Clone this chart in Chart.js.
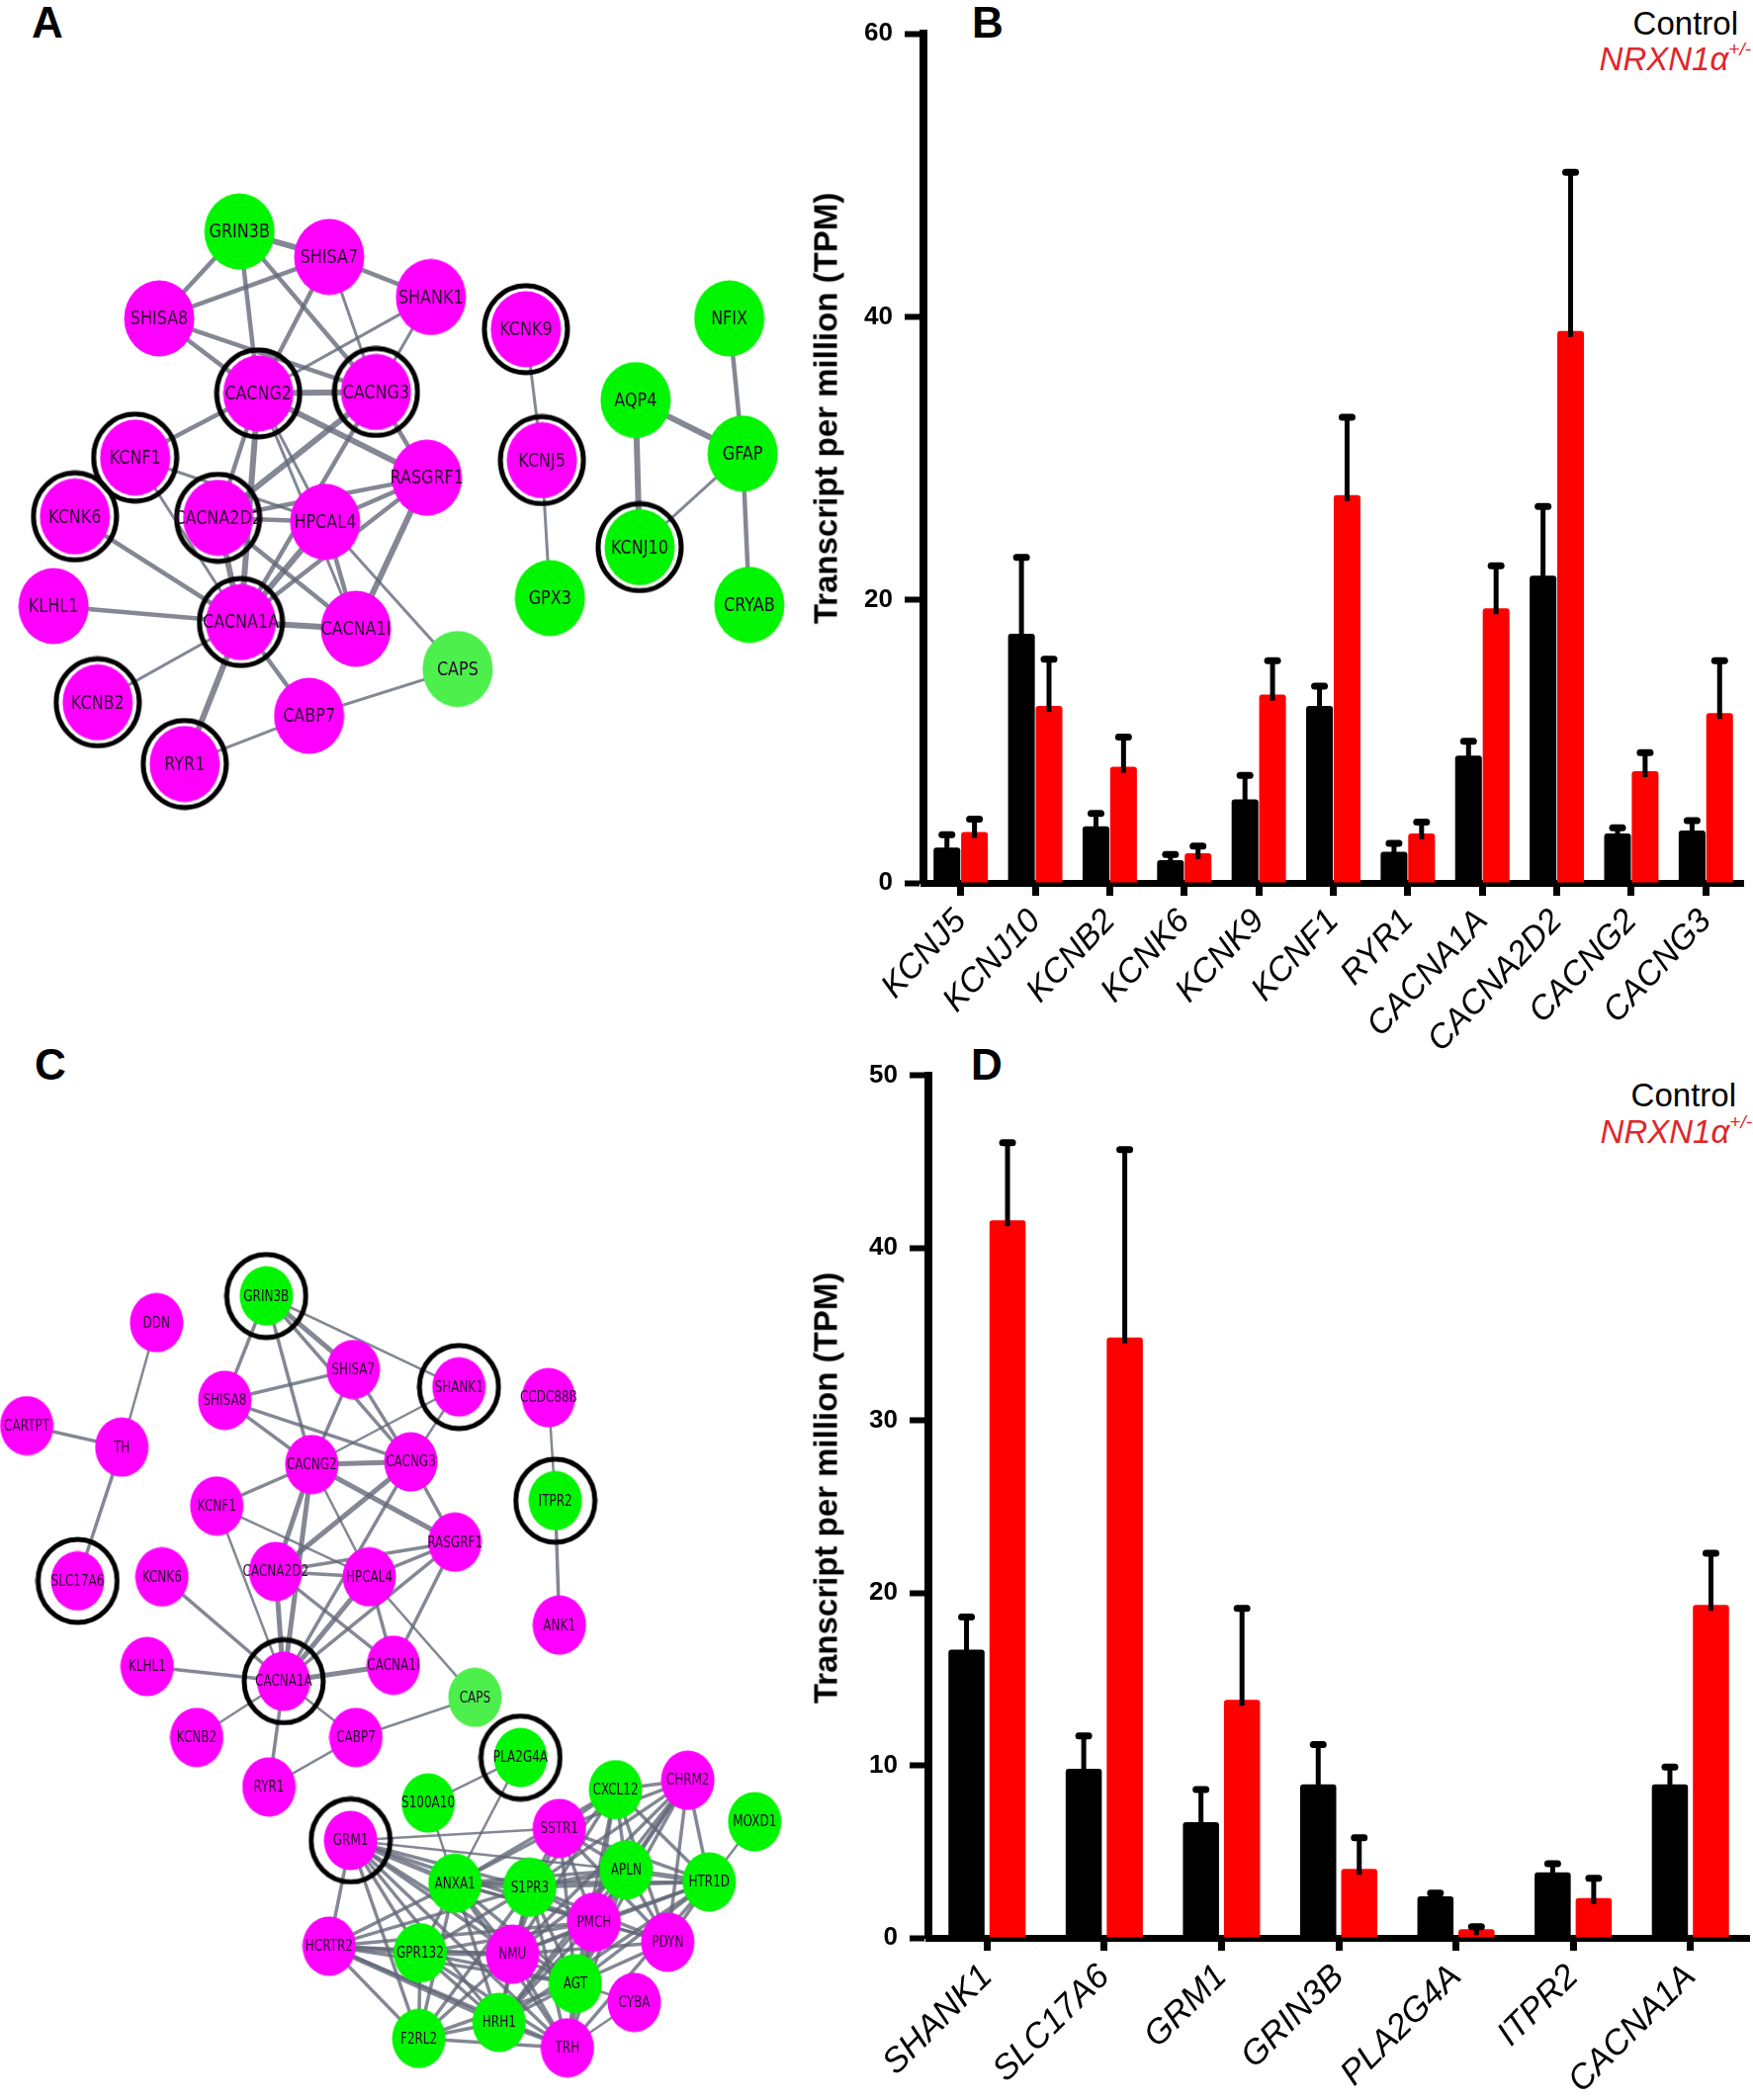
<!DOCTYPE html>
<html>
<head>
<meta charset="utf-8">
<script src="https://cdn.jsdelivr.net/npm/chart.js@4.4.1/dist/chart.umd.min.js"></script>
<style>
    body { margin: 0; background: #fff; }
    #page { position: relative; width: 1773px; height: 2124px; overflow: hidden; font-family: "Liberation Sans", Arial, sans-serif; }
    canvas { position: absolute; }
    .letter { position: absolute; font-weight: bold; font-size: 44px; line-height: 1; }
    .ctl { position: absolute; font-size: 33px; line-height: 1; }
    .mut { position: absolute; font-size: 33px; line-height: 1; font-style: italic; color: #e0262b; }
    .mut sup { font-size: 19px; position: relative; top: -3px; }
    .ytitle { position: absolute; font-weight: bold; font-size: 33px; line-height: 1; white-space: nowrap;
              transform: translate(-50%, -50%) rotate(-90deg); }
</style>
</head>
<body>
<div id="page">
    <div class="letter" style="left:32px;top:1px;">A</div>
    <div class="letter" style="left:983px;top:1px;">B</div>
    <div class="letter" style="left:35px;top:1055px;">C</div>
    <div class="letter" style="left:982px;top:1055px;">D</div>
    <div class="ctl" style="right:15px;top:7px;">Control</div>
    <div class="mut" style="right:2px;top:43px;">NRXN1α<sup>+/-</sup></div>
    <div class="ctl" style="right:17px;top:1091px;">Control</div>
    <div class="mut" style="right:1px;top:1128px;">NRXN1α<sup>+/-</sup></div>

    <canvas id="netA" width="812" height="1000" style="left:0;top:0;"></canvas>
    <canvas id="barB" width="958" height="1100" style="left:815px;top:0;"></canvas>
    <canvas id="netC" width="812" height="1069" style="left:0;top:1055px;"></canvas>
    <canvas id="barD" width="958" height="1064" style="left:815px;top:1060px;"></canvas>

    <div class="ytitle" style="left:835px;top:413px;">Transcript per million (TPM)</div>
    <div class="ytitle" style="left:835px;top:1505px;">Transcript per million (TPM)</div>
</div>
<script>
// ---- Panel B data (TPM, mean and mean+SEM) ----
const bGenes = ['KCNJ5', 'KCNJ10', 'KCNB2', 'KCNK6', 'KCNK9', 'KCNF1', 'RYR1', 'CACNA1A', 'CACNA2D2', 'CACNG2', 'CACNG3'];
const bControl = [2.5, 17.6, 4.0, 1.6, 5.9, 12.5, 2.2, 9.0, 21.7, 3.5, 3.7];
const bControlErr = [3.4, 23.0, 4.9, 2.0, 7.6, 13.9, 2.8, 10.0, 26.6, 3.9, 4.4];
const bMutant = [3.6, 12.5, 8.2, 2.1, 13.3, 27.4, 3.5, 19.4, 39.0, 7.9, 12.0];
const bMutantErr = [4.5, 15.8, 10.3, 2.6, 15.7, 32.9, 4.3, 22.4, 50.2, 9.2, 15.7];
const bTicks = [0, 20, 40, 60];

// ---- Panel D data ----
const dGenes = ['SHANK1', 'SLC17A6', 'GRM1', 'GRIN3B', 'PLA2G4A', 'ITPR2', 'CACNA1A'];
const dControl = [16.7, 9.8, 6.7, 8.9, 2.4, 3.8, 8.9];
const dControlErr = [18.6, 11.7, 8.6, 11.2, 2.6, 4.3, 9.9];
const dMutant = [41.6, 34.8, 13.8, 4.0, 0.5, 2.3, 19.3];
const dMutantErr = [46.1, 45.7, 19.1, 5.8, 0.65, 3.45, 22.3];
const dTicks = [0, 10, 20, 30, 40, 50];

// ---- Panel A network: [name, x, y, colour, circled] ----
const nodesA = [
    ['GRIN3B', 179, 173, 'g', 0], ['SHISA7', 246, 192, 'm', 0], ['SHANK1', 322, 222, 'm', 0],
    ['SHISA8', 119, 238, 'm', 0], ['KCNK9', 393, 246, 'm', 1], ['NFIX', 545, 238, 'g', 0],
    ['CACNG2', 193, 294, 'm', 1], ['CACNG3', 281, 293, 'm', 1], ['AQP4', 475, 299, 'g', 0],
    ['KCNF1', 101, 342, 'm', 1], ['KCNJ5', 405, 344, 'm', 1], ['GFAP', 555, 339, 'g', 0],
    ['RASGRF1', 319, 357, 'm', 0], ['KCNK6', 56, 386, 'm', 1], ['CACNA2D2', 163, 387, 'm', 1],
    ['HPCAL4', 243, 390, 'm', 0], ['KCNJ10', 478, 409, 'g', 1], ['KLHL1', 40, 453, 'm', 0],
    ['CACNA1A', 180, 465, 'm', 1], ['CACNA1I', 266, 470, 'm', 0], ['GPX3', 411, 447, 'g', 0],
    ['CRYAB', 560, 452, 'g', 0], ['CAPS', 342, 500, 'l', 0], ['KCNB2', 73, 525, 'm', 1],
    ['CABP7', 231, 535, 'm', 0], ['RYR1', 138, 571, 'm', 1]
];
// [from, to, weight]
const edgesA = [
    ['CACNG2', 'CACNG3', 3], ['GRIN3B', 'SHISA7', 3], ['CACNG2', 'CACNA1A', 3], ['CACNA2D2', 'CACNA1A', 3],
    ['AQP4', 'GFAP', 3], ['AQP4', 'KCNJ10', 3], ['CACNG3', 'CACNA2D2', 3], ['CACNG2', 'RASGRF1', 3],
    ['CACNA1A', 'CACNA1I', 3], ['RASGRF1', 'CACNA1I', 3], ['HPCAL4', 'CACNA1A', 3], ['GFAP', 'CRYAB', 2],
    ['GRIN3B', 'CACNG2', 2], ['GRIN3B', 'CACNG3', 2], ['SHISA7', 'CACNG2', 2], ['SHISA7', 'CACNG3', 1],
    ['SHISA8', 'CACNG2', 2], ['SHISA8', 'CACNG3', 2], ['SHISA8', 'SHISA7', 2], ['SHANK1', 'SHISA7', 2],
    ['SHANK1', 'CACNG2', 1], ['CACNG3', 'RASGRF1', 2], ['CACNG3', 'CACNA1A', 2], ['CACNG2', 'KCNF1', 2],
    ['CACNG2', 'CACNA2D2', 2], ['CACNA2D2', 'HPCAL4', 2], ['HPCAL4', 'RASGRF1', 2], ['RASGRF1', 'CACNA1A', 2],
    ['CACNA2D2', 'RASGRF1', 2], ['CACNA1A', 'RYR1', 3], ['KLHL1', 'CACNA1A', 2], ['CACNA1A', 'CABP7', 2],
    ['NFIX', 'GFAP', 2], ['GRIN3B', 'SHISA8', 2], ['SHANK1', 'CACNG3', 1], ['KCNF1', 'HPCAL4', 1],
    ['KCNF1', 'CACNA1A', 1], ['KCNK6', 'CACNA1A', 2], ['CACNG2', 'CACNA1I', 1], ['HPCAL4', 'CACNA1I', 2],
    ['HPCAL4', 'CAPS', 1], ['CACNA2D2', 'CACNA1I', 2], ['CABP7', 'CAPS', 1], ['CABP7', 'RYR1', 1],
    ['KCNK9', 'KCNJ5', 1], ['KCNJ5', 'GPX3', 1], ['KCNJ10', 'GFAP', 1], ['CACNA1A', 'KCNB2', 1],
    ['CACNG2', 'HPCAL4', 1]
];

// ---- Panel C network ----
const nodesC = [
    ['GRIN3B', 199, 969, 'g', 1], ['DDN', 117, 989, 'm', 0], ['SHISA7', 264, 1024, 'm', 0],
    ['SHANK1', 343, 1037, 'm', 1], ['CCDC88B', 410, 1045, 'm', 0], ['SHISA8', 168, 1047, 'm', 0],
    ['CARTPT', 20, 1066, 'm', 0], ['TH', 91, 1082, 'm', 0], ['CACNG2', 233, 1095, 'm', 0],
    ['CACNG3', 307, 1093, 'm', 0], ['ITPR2', 415, 1122, 'g', 1], ['KCNF1', 162, 1126, 'm', 0],
    ['RASGRF1', 340, 1153, 'm', 0], ['SLC17A6', 58, 1182, 'm', 1], ['KCNK6', 121, 1179, 'm', 0],
    ['CACNA2D2', 206, 1175, 'm', 0], ['HPCAL4', 276, 1179, 'm', 0], ['ANK1', 418, 1215, 'm', 0],
    ['KLHL1', 110, 1246, 'm', 0], ['CACNA1A', 212, 1257, 'm', 1], ['CACNA1I', 294, 1245, 'm', 0],
    ['CAPS', 355, 1269, 'l', 0], ['KCNB2', 147, 1299, 'm', 0], ['CABP7', 266, 1299, 'm', 0],
    ['PLA2G4A', 389, 1314, 'g', 1], ['RYR1', 201, 1336, 'm', 0], ['S100A10', 320, 1348, 'g', 0],
    ['CXCL12', 460, 1338, 'g', 0], ['CHRM2', 514, 1331, 'm', 0], ['MOXD1', 564, 1362, 'g', 0],
    ['SSTR1', 418, 1367, 'm', 0], ['GRM1', 262, 1376, 'm', 1], ['ANXA1', 340, 1408, 'g', 0],
    ['S1PR3', 396, 1411, 'g', 0], ['APLN', 468, 1398, 'g', 0], ['HTR1D', 530, 1407, 'g', 0],
    ['PMCH', 444, 1437, 'm', 0], ['HCRTR2', 246, 1455, 'm', 0], ['GPR132', 314, 1460, 'g', 0],
    ['NMU', 383, 1461, 'm', 0], ['PDYN', 499, 1452, 'm', 0], ['AGT', 430, 1483, 'g', 0],
    ['CYBA', 474, 1497, 'm', 0], ['HRH1', 373, 1512, 'g', 0], ['F2RL2', 313, 1524, 'g', 0],
    ['TRH', 424, 1531, 'm', 0]
];
const edgesC = [
    ['DDN', 'TH', 1], ['CARTPT', 'TH', 2], ['TH', 'SLC17A6', 2],
    ['GRIN3B', 'SHISA8', 2], ['GRIN3B', 'CACNG2', 2], ['GRIN3B', 'SHISA7', 3], ['GRIN3B', 'CACNG3', 2],
    ['GRIN3B', 'SHANK1', 1], ['SHISA7', 'SHISA8', 2], ['SHISA7', 'CACNG2', 2], ['SHISA7', 'CACNG3', 2],
    ['SHISA8', 'CACNG2', 2], ['SHISA8', 'CACNG3', 2], ['SHANK1', 'CACNG2', 1], ['SHANK1', 'CACNG3', 1],
    ['CACNG2', 'CACNG3', 3], ['CACNG2', 'KCNF1', 2], ['CACNG2', 'CACNA2D2', 3], ['CACNG2', 'CACNA1A', 3],
    ['CACNG2', 'RASGRF1', 3], ['CACNG2', 'HPCAL4', 1], ['CACNG3', 'RASGRF1', 2], ['CACNG3', 'CACNA2D2', 3],
    ['CACNG3', 'CACNA1A', 2], ['KCNF1', 'HPCAL4', 1], ['KCNF1', 'CACNA1A', 1], ['KCNK6', 'CACNA1A', 2],
    ['CACNA2D2', 'HPCAL4', 2], ['CACNA2D2', 'RASGRF1', 2], ['CACNA2D2', 'CACNA1A', 3], ['CACNA2D2', 'CACNA1I', 2],
    ['HPCAL4', 'RASGRF1', 2], ['HPCAL4', 'CACNA1A', 3], ['HPCAL4', 'CACNA1I', 2], ['HPCAL4', 'CAPS', 1],
    ['RASGRF1', 'CACNA1A', 2], ['RASGRF1', 'CACNA1I', 2], ['KLHL1', 'CACNA1A', 2], ['CACNA1A', 'CACNA1I', 3],
    ['CACNA1A', 'KCNB2', 1], ['CACNA1A', 'RYR1', 2], ['CACNA1A', 'CABP7', 1], ['CABP7', 'CAPS', 1],
    ['CABP7', 'RYR1', 1], ['CCDC88B', 'ITPR2', 1], ['ITPR2', 'ANK1', 2],
    ['PLA2G4A', 'S100A10', 1], ['PLA2G4A', 'ANXA1', 1], ['S100A10', 'ANXA1', 1], ['MOXD1', 'HTR1D', 1],
    ['GRM1', 'HCRTR2', 2], ['GRM1', 'ANXA1', 3], ['GRM1', 'S1PR3', 2], ['GRM1', 'GPR132', 2], ['GRM1', 'NMU', 2],
    ['GRM1', 'F2RL2', 2], ['GRM1', 'HRH1', 2], ['GRM1', 'AGT', 2], ['GRM1', 'TRH', 2], ['GRM1', 'PMCH', 2],
    ['GRM1', 'APLN', 1], ['GRM1', 'SSTR1', 1],
    ['HCRTR2', 'GPR132', 3], ['HCRTR2', 'NMU', 2], ['HCRTR2', 'F2RL2', 2], ['HCRTR2', 'HRH1', 3],
    ['HCRTR2', 'TRH', 2], ['HCRTR2', 'AGT', 2], ['HCRTR2', 'ANXA1', 2], ['HCRTR2', 'S1PR3', 2], ['HCRTR2', 'PMCH', 2],
    ['ANXA1', 'S1PR3', 3], ['ANXA1', 'GPR132', 2], ['ANXA1', 'NMU', 2], ['ANXA1', 'F2RL2', 2], ['ANXA1', 'HRH1', 2],
    ['ANXA1', 'AGT', 2], ['ANXA1', 'TRH', 2], ['ANXA1', 'APLN', 2], ['ANXA1', 'SSTR1', 2], ['ANXA1', 'CXCL12', 2],
    ['ANXA1', 'PMCH', 2], ['ANXA1', 'HTR1D', 2], ['ANXA1', 'PDYN', 1],
    ['S1PR3', 'APLN', 3], ['S1PR3', 'HTR1D', 2], ['S1PR3', 'PMCH', 2], ['S1PR3', 'NMU', 2], ['S1PR3', 'AGT', 2],
    ['S1PR3', 'GPR132', 2], ['S1PR3', 'F2RL2', 2], ['S1PR3', 'HRH1', 2], ['S1PR3', 'TRH', 2], ['S1PR3', 'CXCL12', 2],
    ['S1PR3', 'CHRM2', 2], ['S1PR3', 'SSTR1', 2], ['S1PR3', 'PDYN', 2],
    ['APLN', 'HTR1D', 3], ['APLN', 'CXCL12', 2], ['APLN', 'CHRM2', 2], ['APLN', 'SSTR1', 2], ['APLN', 'PMCH', 2],
    ['APLN', 'NMU', 2], ['APLN', 'AGT', 2], ['APLN', 'PDYN', 2], ['APLN', 'TRH', 2], ['APLN', 'HRH1', 2],
    ['HTR1D', 'CXCL12', 2], ['HTR1D', 'CHRM2', 2], ['HTR1D', 'SSTR1', 2], ['HTR1D', 'PMCH', 2], ['HTR1D', 'NMU', 2],
    ['HTR1D', 'AGT', 2], ['HTR1D', 'PDYN', 2], ['HTR1D', 'TRH', 2], ['HTR1D', 'HRH1', 2],
    ['PMCH', 'NMU', 2], ['PMCH', 'AGT', 2], ['PMCH', 'PDYN', 2], ['PMCH', 'CXCL12', 2], ['PMCH', 'CHRM2', 2],
    ['PMCH', 'SSTR1', 2], ['PMCH', 'TRH', 2], ['PMCH', 'HRH1', 2], ['PMCH', 'GPR132', 2],
    ['GPR132', 'NMU', 3], ['GPR132', 'F2RL2', 2], ['GPR132', 'HRH1', 2], ['GPR132', 'AGT', 2], ['GPR132', 'TRH', 2],
    ['NMU', 'AGT', 2], ['NMU', 'HRH1', 2], ['NMU', 'F2RL2', 2], ['NMU', 'TRH', 2], ['NMU', 'PDYN', 2],
    ['NMU', 'SSTR1', 2], ['NMU', 'CXCL12', 2], ['NMU', 'CHRM2', 2],
    ['AGT', 'HRH1', 2], ['AGT', 'TRH', 2], ['AGT', 'PDYN', 2], ['AGT', 'CYBA', 1], ['AGT', 'CXCL12', 2],
    ['AGT', 'CHRM2', 2], ['AGT', 'SSTR1', 2], ['AGT', 'F2RL2', 2],
    ['HRH1', 'F2RL2', 2], ['HRH1', 'TRH', 2], ['HRH1', 'CHRM2', 2], ['F2RL2', 'TRH', 2],
    ['CXCL12', 'CHRM2', 2], ['CXCL12', 'SSTR1', 2], ['CXCL12', 'PDYN', 2], ['CHRM2', 'SSTR1', 2],
    ['CHRM2', 'PDYN', 2], ['SSTR1', 'PDYN', 2], ['CYBA', 'TRH', 1]
];

const nodeColours = { m: '#ff00ff', g: '#00f500', l: '#4cef4c' };
const edgeColour = 'rgba(96, 102, 118, 0.78)';

Chart.defaults.font.family = '"Liberation Sans", Arial, sans-serif';
Chart.defaults.color = '#000';

// Ellipse sprites used as point styles
function ellipseSprite(w, h, fill, stroke, lw) {
    const c = document.createElement('canvas');
    c.width = w; c.height = h;
    const g = c.getContext('2d');
    g.beginPath();
    g.ellipse(w / 2, h / 2, w / 2 - (lw || 0) / 2 - 0.5, h / 2 - (lw || 0) / 2 - 0.5, 0, 0, Math.PI * 2);
    if (fill) { g.fillStyle = fill; g.fill(); }
    if (stroke) { g.strokeStyle = stroke; g.lineWidth = lw; g.stroke(); }
    return c;
}

// Draw edges beneath nodes, labels above
const networkPlugin = {
    id: 'network',
    beforeDatasetsDraw(chart, args, opts) {
        const ctx = chart.ctx;
        const xs = chart.scales.x, ys = chart.scales.y;
        const pos = {};
        opts.nodes.forEach(n => { pos[n[0]] = [xs.getPixelForValue(n[1]), ys.getPixelForValue(n[2])]; });
        ctx.save();
        ctx.strokeStyle = edgeColour;
        ctx.lineCap = 'round';
        opts.edges.forEach(e => {
            const a = pos[e[0]], b = pos[e[1]];
            if (!a || !b) return;
            ctx.lineWidth = opts.widths[e[2]];
            ctx.beginPath();
            ctx.moveTo(a[0], a[1]);
            ctx.lineTo(b[0], b[1]);
            ctx.stroke();
        });
        ctx.restore();
    },
    afterDatasetsDraw(chart, args, opts) {
        const ctx = chart.ctx;
        const meta = chart.getDatasetMeta(0);
        ctx.save();
        ctx.fillStyle = '#2a0a2e';
        ctx.font = opts.font;
        ctx.textAlign = 'center';
        ctx.textBaseline = 'middle';
        meta.data.forEach((pt, i) => {
            const name = opts.nodes[i][0];
            ctx.save();
            ctx.translate(pt.x, pt.y);
            ctx.scale(opts.squeeze, 1);
            ctx.fillText(name, 0, 1);
            ctx.restore();
        });
        ctx.restore();
    }
};

function makeNetwork(id, nodes, edges, yMin, yMax, size) {
    const sprites = {};
    Object.keys(nodeColours).forEach(k => { sprites[k] = ellipseSprite(size.w, size.h, nodeColours[k]); });
    const ring = ellipseSprite(size.rw, size.rh, null, '#000', size.rl);
    const circled = nodes.filter(n => n[4]);
    new Chart(document.getElementById(id), {
        type: 'scatter',
        data: {
            datasets: [{
                data: nodes.map(n => ({ x: n[1], y: n[2] })),
                pointStyle: ctx => sprites[nodes[ctx.dataIndex][3]],
                pointRadius: size.w / 2,
                clip: false
            }, {
                data: circled.map(n => ({ x: n[1], y: n[2] })),
                pointStyle: ring,
                pointRadius: size.rw / 2,
                clip: false
            }]
        },
        options: {
            responsive: false,
            animation: false,
            events: [],
            layout: { padding: 0, autoPadding: false },
            scales: {
                x: { display: false, min: 0, max: 600 },
                y: { display: false, min: yMin, max: yMax, reverse: true }
            },
            plugins: {
                legend: { display: false },
                tooltip: { enabled: false },
                network: { nodes: nodes, edges: edges, widths: size.widths, font: size.font, squeeze: size.squeeze }
            }
        },
        plugins: [networkPlugin]
    });
}

makeNetwork('netA', nodesA, edgesA, 0, 739, {
    w: 72, h: 78, rw: 90, rh: 94, rl: 5,
    widths: { 1: 3, 2: 4.5, 3: 6 }, font: '20px "DejaVu Sans"', squeeze: 0.8
});
makeNetwork('netC', nodesC, edgesC, 780, 1570, {
    w: 55, h: 61, rw: 86, rh: 90, rl: 5,
    widths: { 1: 2.5, 2: 3.5, 3: 5 }, font: '15px "DejaVu Sans"', squeeze: 0.8
});

// Error bars: vertical stem from bar top up to mean+SEM with a cap
const errorBars = {
    id: 'errorBars',
    afterDatasetsDraw(chart) {
        const ctx = chart.ctx;
        const yScale = chart.scales.y;
        chart.data.datasets.forEach((ds, di) => {
            const meta = chart.getDatasetMeta(di);
            meta.data.forEach((bar, i) => {
                const top = yScale.getPixelForValue(ds.errTop[i]);
                ctx.save();
                ctx.strokeStyle = '#000';
                ctx.lineWidth = 5;
                ctx.beginPath();
                ctx.moveTo(bar.x, bar.y + 6);
                ctx.lineTo(bar.x, top);
                ctx.stroke();
                ctx.lineWidth = 7;
                ctx.lineCap = 'round';
                ctx.beginPath();
                ctx.moveTo(bar.x - 5, top);
                ctx.lineTo(bar.x + 5, top);
                ctx.stroke();
                ctx.restore();
            });
        });
    }
};

function makeBars(id, genes, ctl, ctlErr, mut, mutErr, ticks, cfg) {
    new Chart(document.getElementById(id), {
        type: 'bar',
        data: {
            labels: genes,
            datasets: [{
                label: 'Control',
                data: ctl,
                errTop: ctlErr,
                backgroundColor: '#000',
                borderRadius: { topLeft: 3, topRight: 3 },
                borderSkipped: 'bottom'
            }, {
                label: 'NRXN1α+/-',
                data: mut,
                errTop: mutErr,
                backgroundColor: '#ff0000',
                borderRadius: { topLeft: 3, topRight: 3 },
                borderSkipped: 'bottom'
            }]
        },
        options: {
            responsive: false,
            animation: false,
            events: [],
            datasets: { bar: { categoryPercentage: cfg.cat, barPercentage: cfg.bar } },
            layout: { padding: { top: cfg.top, right: cfg.right, left: 0, bottom: 0 } },
            scales: {
                x: {
                    grid: { display: true, drawOnChartArea: false, offset: false, tickLength: 13, tickWidth: 7, tickColor: '#000' },
                    border: { display: true, width: 7, color: '#000' },
                    ticks: {
                        autoSkip: false, minRotation: cfg.rot, maxRotation: cfg.rot, padding: 6,
                        font: { size: cfg.xFont, style: 'italic' }, color: '#000'
                    },
                    afterFit: s => { s.height = cfg.xh; }
                },
                y: {
                    min: 0, max: ticks[ticks.length - 1],
                    afterBuildTicks: s => { s.ticks = ticks.map(v => ({ value: v })); },
                    grid: { display: true, drawOnChartArea: false, tickLength: 19, tickWidth: 6, tickColor: '#000' },
                    border: { display: true, width: 8, color: '#000' },
                    ticks: {
                        padding: 12, color: '#000',
                        font: { weight: 'bold', size: 26 }
                    },
                    afterFit: s => { s.width = cfg.yw; }
                }
            },
            plugins: { legend: { display: false }, tooltip: { enabled: false } }
        },
        plugins: [errorBars]
    });
}

makeBars('barB', bGenes, bControl, bControlErr, bMutant, bMutantErr, bTicks,
    { cat: 0.74, bar: 0.97, top: 34, right: 10, xh: 207, yw: 119, rot: 47, xFont: 34 });
makeBars('barD', dGenes, dControl, dControlErr, dMutant, dMutantErr, dTicks,
    { cat: 0.70, bar: 0.88, top: 18, right: 4, xh: 164, yw: 124, rot: 45, xFont: 35 });
</script>
</body>
</html>
